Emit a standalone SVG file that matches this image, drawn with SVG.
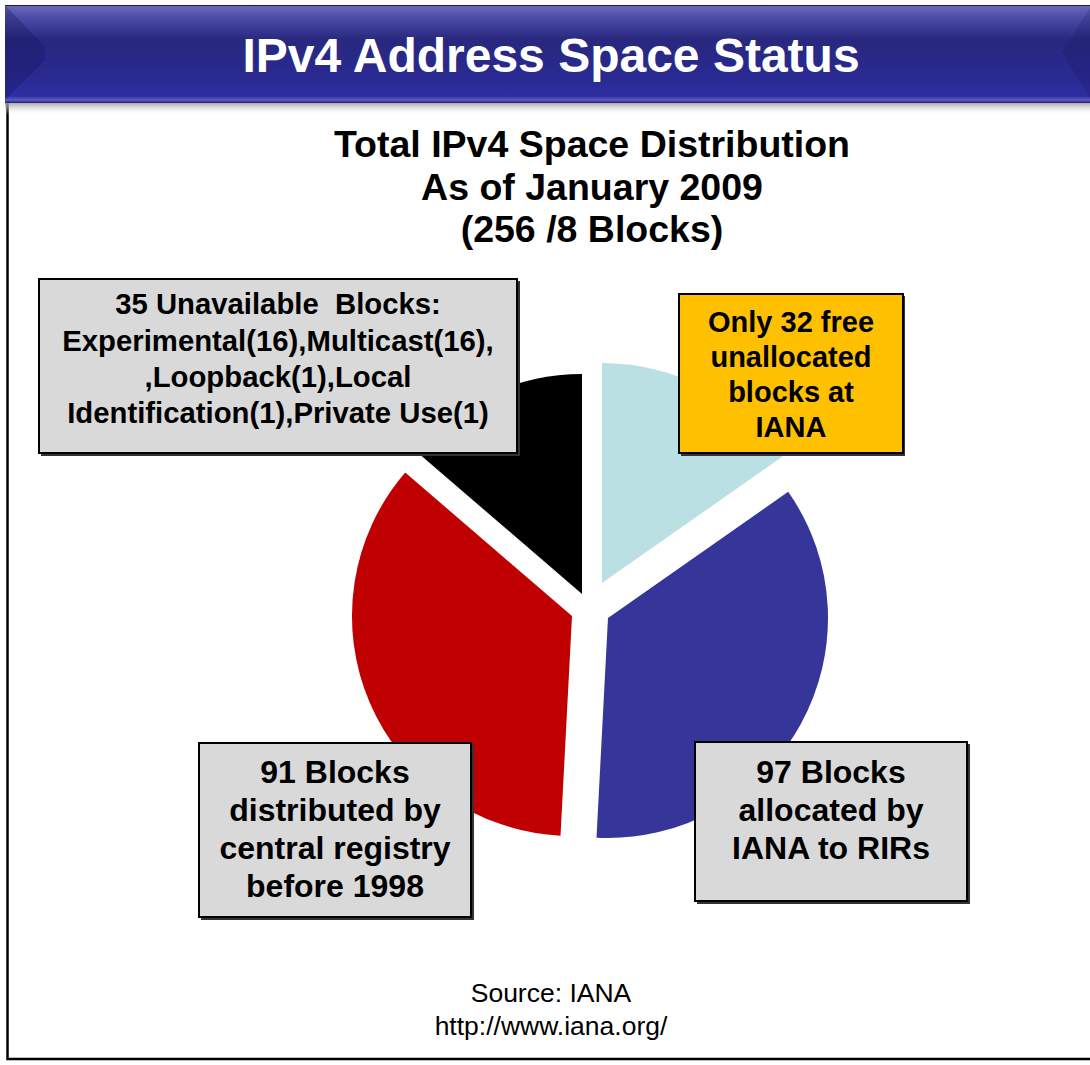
<svg xmlns="http://www.w3.org/2000/svg" width="1090" height="1065" viewBox="0 0 1090 1065">
<defs>
<linearGradient id="band" x1="0" y1="0" x2="0" y2="1">
<stop offset="0" stop-color="#6C6CBC"/>
<stop offset="0.12" stop-color="#4E4EA8"/>
<stop offset="0.35" stop-color="#28287F"/>
<stop offset="0.7" stop-color="#292990"/>
<stop offset="0.93" stop-color="#2E2EA0"/>
<stop offset="0.97" stop-color="#5C5CC8"/>
<stop offset="1" stop-color="#20206A"/>
</linearGradient>
<linearGradient id="shadow" x1="0" y1="0" x2="0" y2="1">
<stop offset="0" stop-color="#8A8A8A"/>
<stop offset="1" stop-color="#FFFFFF" stop-opacity="0"/>
</linearGradient>
<style>
.title{font-family:"Liberation Sans",Arial,sans-serif;font-weight:bold;fill:#FFFFFF;text-anchor:middle}
.sub{font-family:"Liberation Sans",Arial,sans-serif;font-weight:bold;fill:#000;text-anchor:middle;font-size:37.5px}
.lbl{font-family:"Liberation Sans",Arial,sans-serif;font-weight:bold;fill:#000;text-anchor:middle}
.src{font-family:"Liberation Sans",Arial,sans-serif;fill:#000;text-anchor:middle;font-size:26.5px}
.box{stroke:#000;stroke-width:2}
.shd{fill:#333}
</style>
</defs>
<rect width="1090" height="1065" fill="#FFFFFF"/>
<!-- frame -->
<path d="M7.5 103 V1059 H1090" fill="none" stroke="#000" stroke-width="2.5"/>
<!-- header band -->
<g id="header">
<rect x="5" y="101" width="1085" height="14" fill="url(#shadow)"/>
<rect x="5" y="5" width="1085" height="98" fill="url(#band)"/>
<polygon points="5,5 45,47 45,60 5,100" fill="#14145A" opacity="0.3"/>
<polygon points="1090,8 1062,52 1090,98" fill="#14145A" opacity="0.2"/>
<line x1="5" y1="5.5" x2="1090" y2="5.5" stroke="#1A1A55" stroke-width="1"/>
<text class="title" x="551" y="72" font-size="48">IPv4 Address Space Status</text>
</g>
<g id="subtitle">
<text class="sub" x="592" y="157">Total IPv4 Space Distribution</text>
<text class="sub" x="592" y="200">As of January 2009</text>
<text class="sub" x="592" y="242">(256 /8 Blocks)</text>
</g>
<!-- pie slices -->
<g id="pie">
<path id="slice-free" d="M602 583 L602 363 A220 220 0 0 1 782.2 456.8 Z" fill="#BAE0E3"/>
<path id="slice-rir" d="M608 618 L788.2 491.8 A220 220 0 0 1 596.5 837.7 Z" fill="#35359A"/>
<path id="slice-central" d="M572 616 L560.5 835.7 A220 220 0 0 1 405.2 472.5 Z" fill="#C00000"/>
<path id="slice-unavail" d="M582 594 L415.2 450.5 A220 220 0 0 1 582 374 Z" fill="#000000"/>
</g>
<g id="connectors"/>
<g id="box-unavailable">
<rect class="shd" x="41" y="281" width="479" height="175"/>
<rect class="box" x="39" y="279" width="478" height="174" fill="#D9D9D9"/>
<text class="lbl" font-size="29.3" x="278" y="314" xml:space="preserve">35 Unavailable  Blocks:</text>
<text class="lbl" font-size="29.3" x="278" y="351">Experimental(16),Multicast(16),</text>
<text class="lbl" font-size="29.3" x="278" y="387">,Loopback(1),Local</text>
<text class="lbl" font-size="29.3" x="278" y="423">Identification(1),Private Use(1)</text>
</g>
<g id="box-free">
<rect class="shd" x="681" y="296" width="224" height="160"/>
<rect class="box" x="679" y="294" width="224" height="159" fill="#FFC000"/>
<text class="lbl" font-size="29" x="791" y="332">Only 32 free</text>
<text class="lbl" font-size="29" x="791" y="367">unallocated</text>
<text class="lbl" font-size="29" x="791" y="402">blocks at</text>
<text class="lbl" font-size="29" x="791" y="437">IANA</text>
</g>
<g id="box-central">
<rect class="shd" x="201" y="745" width="273" height="175"/>
<rect class="box" x="199" y="743" width="272" height="174" fill="#D9D9D9"/>
<text class="lbl" font-size="32" x="335" y="783">91 Blocks</text>
<text class="lbl" font-size="32" x="335" y="821">distributed by</text>
<text class="lbl" font-size="32" x="335" y="859">central registry</text>
<text class="lbl" font-size="32" x="335" y="897">before 1998</text>
</g>
<g id="box-rir">
<rect class="shd" x="697" y="744" width="273" height="160"/>
<rect class="box" x="695" y="742" width="272" height="159" fill="#D9D9D9"/>
<text class="lbl" font-size="32" x="831" y="783">97 Blocks</text>
<text class="lbl" font-size="32" x="831" y="821">allocated by</text>
<text class="lbl" font-size="32" x="831" y="859">IANA to RIRs</text>
</g>
<g id="source">
<text class="src" x="551" y="1002">Source: IANA</text>
<text class="src" x="551" y="1035">http://www.iana.org/</text>
</g>
</svg>
